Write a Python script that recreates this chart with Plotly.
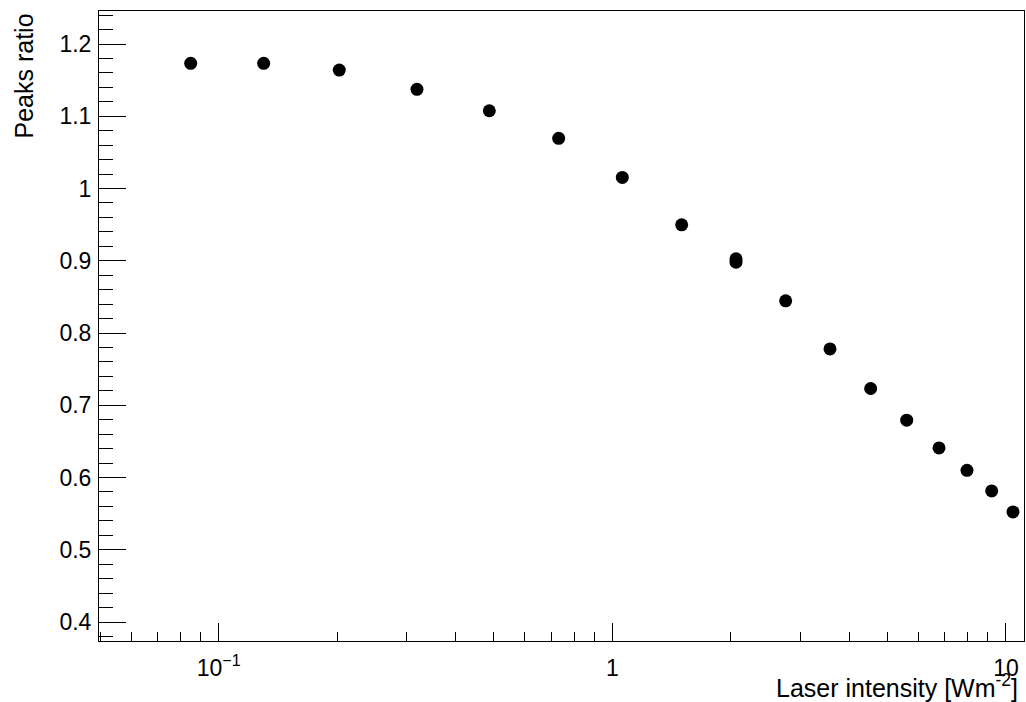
import plotly.graph_objects as go

# Data
intensity = [0.0849, 0.1301, 0.2025, 0.3190, 0.4870, 0.7308, 1.0603, 1.5006,
             2.062, 2.062, 2.757, 3.573, 4.533, 5.596, 6.761, 7.963, 9.200, 10.42]
peaks_ratio = [1.1733, 1.1733, 1.1640, 1.1373, 1.1076, 1.0694, 1.0154, 0.9498,
               0.9027, 0.8981, 0.8445, 0.7780, 0.7232, 0.6793, 0.6409, 0.6100,
               0.5814, 0.5523]

x_tickvals = [0.1, 1, 10]
x_ticktext = ["10<sup>\u22121</sup>", "1", "10"]
y_tickvals = [0.4, 0.5, 0.6, 0.7, 0.8, 0.9, 1.0, 1.1, 1.2]
y_ticktext = ["0.4", "0.5", "0.6", "0.7", "0.8", "0.9", "1", "1.1", "1.2"]

x_title = "Laser intensity [Wm<sup>-2</sup>]"
y_title = "Peaks ratio"

FONT = "Liberation Sans, Arial, Helvetica, sans-serif"

fig = go.Figure()
fig.add_trace(go.Scatter(
    x=intensity, y=peaks_ratio, mode="markers",
    marker=dict(color="black", size=13, symbol="circle"),
    showlegend=False,
))

fig.update_layout(
    width=1026, height=702,
    margin=dict(l=99, r=2, t=11, b=61),
    paper_bgcolor="white", plot_bgcolor="white",
    font=dict(family=FONT, size=23, color="black"),
)

fig.update_xaxes(
    type="log", range=[-1.304, 1.0459],
    tickmode="array", tickvals=x_tickvals, ticktext=x_ticktext,
    ticks="inside", ticklen=18, tickwidth=1, tickcolor="black",
    minor=dict(ticks="inside", ticklen=9, tickwidth=1, tickcolor="black", dtick="D1", showgrid=False),
    showline=True, linecolor="black", linewidth=1, mirror=True,
    showgrid=False, zeroline=False,
    tickfont=dict(family=FONT, size=23, color="black"),
    ticklabelstandoff=6,
)
fig.update_yaxes(
    range=[0.3737, 1.2457],
    tickmode="array", tickvals=y_tickvals, ticktext=y_ticktext,
    ticks="inside", ticklen=27, tickwidth=1, tickcolor="black",
    minor=dict(ticks="inside", ticklen=13.5, tickwidth=1, tickcolor="black", dtick=0.02, tick0=0, showgrid=False),
    showline=True, linecolor="black", linewidth=1, mirror=True,
    showgrid=False, zeroline=False,
    tickfont=dict(family=FONT, size=23, color="black"),
    ticklabelstandoff=2,
)

fig.add_annotation(
    text=x_title, xref="paper", yref="paper",
    x=(1020 - 99) / 925, y=(641 - 686) / 630,
    xanchor="right", yanchor="middle", showarrow=False,
    font=dict(family=FONT, size=25, color="black"),
)
fig.add_annotation(
    text=y_title, xref="paper", yref="paper",
    x=(23 - 99) / 925, y=(641 - 12) / 630,
    xanchor="center", yanchor="top", textangle=-90, showarrow=False,
    font=dict(family=FONT, size=25, color="black"),
)

fig.write_html("out.html")
